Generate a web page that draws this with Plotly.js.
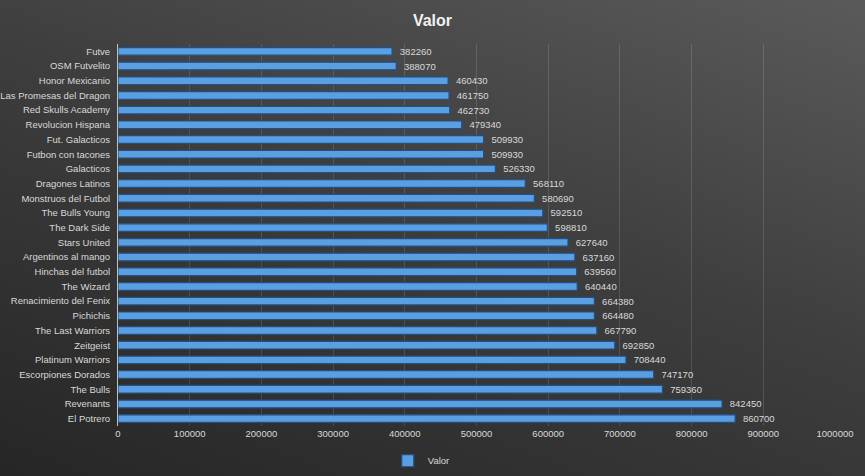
<!DOCTYPE html>
<html>
<head>
<meta charset="utf-8">
<script src="https://cdn.plot.ly/plotly-3.0.1.min.js"></script>
<style>
html,body{margin:0;padding:0;}
body{width:865px;height:476px;background:linear-gradient(200deg,#5a5a5a 0%,#3e3e3e 45%,#262626 100%);}
#chart{width:865px;height:476px;}
</style>
</head>
<body>
<div id="chart"></div>
<script>
const teams = ["El Potrero","Revenants","The Bulls","Escorpiones Dorados","Platinum Warriors","Zeitgeist","The Last Warriors","Pichichis","Renacimiento del Fenix","The Wizard","Hinchas del futbol","Argentinos al mango","Stars United","The Dark Side","The Bulls Young","Monstruos del Futbol","Dragones Latinos","Galacticos","Futbon con tacones","Fut. Galacticos","Revolucion Hispana","Red Skulls Academy","Las Promesas del Dragon","Honor Mexicanio","OSM Futvelito","Futve"];
const valores = [860700,842450,759360,747170,708440,692850,667790,664480,664380,640440,639560,637160,627640,598810,592510,580690,568110,526330,509930,509930,479340,462730,461750,460430,388070,382260];
const tickVals = [0,100000,200000,300000,400000,500000,600000,700000,800000,900000,1000000];
const tickText = tickVals.map(v=>String(v));

const font = {family:"Liberation Sans, Arial, sans-serif", size:9.5, color:"#d9d9d9"};

const data = [{
  type:"bar", orientation:"h", name:"Valor",
  y: teams, x: valores,
  text: valores.map(v=>"\u2002"+String(v)), textposition:"outside", constraintext:"none",
  textfont:{family:font.family,size:9.5,color:"#d9d9d9"},
  cliponaxis:false,
  width:0.52,
  marker:{color:"#5a9fe2", line:{color:"#234f82", width:1.2}},
  showlegend:true
}];

const layout = {
  width:865, height:476,
  paper_bgcolor:"rgba(0,0,0,0)", plot_bgcolor:"rgba(0,0,0,0)",
  margin:{l:118,r:30,t:44,b:50},
  font:font,
  title:{text:"<b>Valor</b>", x:0.5, xanchor:"center", y:0.958, yanchor:"middle",
    font:{family:"Liberation Sans, Arial, sans-serif", size:16, color:"#f2f2f2"}},
  xaxis:{range:[0,1000000], tickvals:tickVals, ticktext:tickText, showgrid:true,
    gridcolor:"rgba(255,255,255,0.13)", gridwidth:1, zeroline:false, showline:false,
    ticks:"", tickfont:font, fixedrange:true, automargin:false},
  yaxis:{type:"category", categoryorder:"array", categoryarray:teams,
    range:[-0.5,teams.length-0.5], showline:true, linecolor:"#bfbfbf", linewidth:1,
    showgrid:false, ticks:"", ticklabelstandoff:5, tickfont:font, automargin:false},
  legend:{orientation:"h", x:0.487, xanchor:"center", xref:"container",
    y:0.032, yanchor:"middle", yref:"container",
    font:font, bgcolor:"rgba(0,0,0,0)", itemwidth:30},
  showlegend:true
};

Plotly.newPlot("chart", data, layout, {displayModeBar:false, staticPlot:true});
</script>
</body>
</html>
